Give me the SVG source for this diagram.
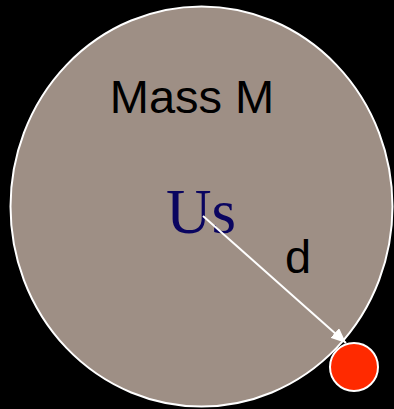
<svg xmlns="http://www.w3.org/2000/svg" width="394" height="409" viewBox="0 0 394 409">
<style>
.lbl{font-family:"Liberation Sans",Arial,sans-serif;fill:#000}
</style>
<defs>
<marker id="ah" markerWidth="15" markerHeight="13" refX="15" refY="6.5" orient="auto" markerUnits="userSpaceOnUse" viewBox="0 0 15 13">
<path d="M0,0 L15,6.5 L0,13 Z" fill="#fff"/>
</marker>
</defs>
<rect width="394" height="409" fill="#000"/>
<g id="mass">
<ellipse cx="201.5" cy="206.5" rx="191" ry="200" fill="#9e8f85" stroke="#fff" stroke-width="2"/>
<text class="lbl" x="192" y="113" font-size="47" text-anchor="middle">Mass M</text>
<text x="201" y="233" font-family="'Liberation Serif','Times New Roman',serif" font-size="63" fill="#0a0560" text-anchor="middle">Us</text>
<text class="lbl" x="298" y="273" font-size="47" text-anchor="middle">d</text>
</g>
<g id="particle">
<circle cx="354" cy="367" r="24" fill="#ff2a00" stroke="#fff" stroke-width="2"/>
</g>
<g id="connectors">
<line x1="203" y1="216" x2="346" y2="343" stroke="#fff" stroke-width="2" marker-end="url(#ah)"/>
</g>
</svg>
